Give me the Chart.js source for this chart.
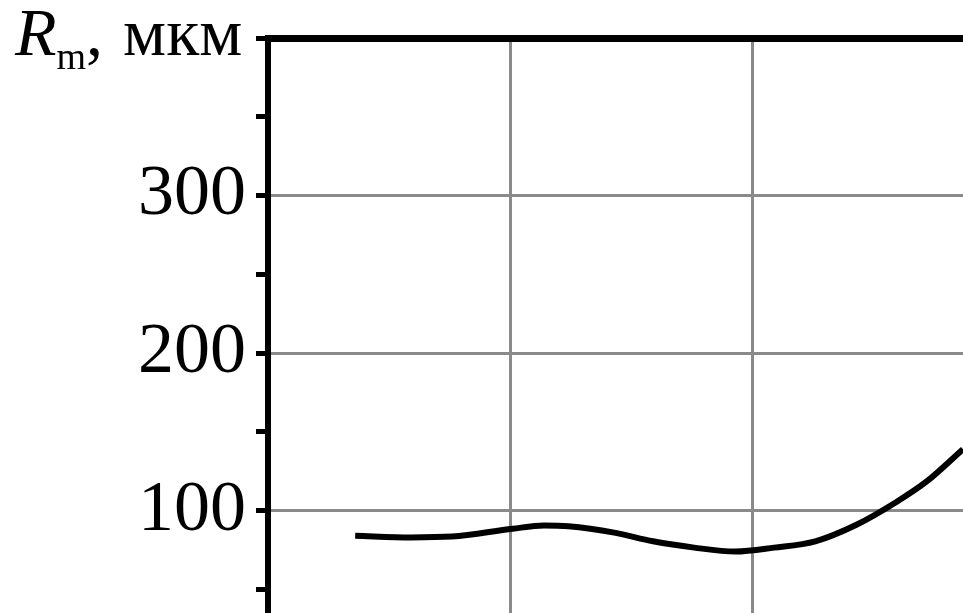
<!DOCTYPE html>
<html>
<head>
<meta charset="utf-8">
<script src="https://cdn.jsdelivr.net/npm/chart.js@4/dist/chart.umd.min.js"></script>
<style>
  html, body { margin: 0; padding: 0; background: #fff; }
  #wrap { position: relative; width: 963px; height: 613px; overflow: hidden; }
  #unit {
    position: absolute; left: 15px; top: -8px;
    font-family: "Liberation Serif", "Times New Roman", serif;
    font-size: 68px; line-height: 80px; color: #000; white-space: nowrap;
  }
  #unit i { font-style: italic; }
  #unit sub { font-size: 38px; vertical-align: -14px; line-height: 0; }
  #unit .u { margin-left: 3px; }
</style>
</head>
<body>
<div id="wrap">
  <canvas id="c" width="963" height="613"></canvas>
  <div id="unit"><i>R</i><sub>m</sub>, <span class="u">мкм</span></div>
</div>
<script>
// Curve samples (x in grid units, R_m in micrometres)
const xValues = [0.36, 0.59, 0.76, 1.01, 1.14, 1.24, 1.43, 1.59, 1.76, 1.93, 2.09, 2.26, 2.43, 2.59, 2.72, 2.87];
const rValues = [84, 83, 83.5, 88.5, 90.5, 90, 86, 80.5, 76.5, 74, 76.5, 80.5, 91, 105, 118.5, 139];

// Y axis ticks: labelled majors and unlabelled minors
const yTicks = [50, 100, 150, 200, 250, 300, 350, 400];
const yLabels = [100, 200, 300];
const xGrid = [1, 2];

const Y_MIN = 35, Y_MAX = 400;
const X_MIN = 0, X_MAX = 2.87;

const points = xValues.map((x, i) => ({ x: x, y: rValues[i] }));

new Chart(document.getElementById('c'), {
  type: 'line',
  data: {
    datasets: [{
      data: points,
      borderColor: '#000',
      borderWidth: 6,
      pointRadius: 0,
      fill: false,
      cubicInterpolationMode: 'monotone'
    }]
  },
  options: {
    responsive: false,
    animation: false,
    layout: { padding: { top: 38, right: 0, bottom: 0, left: 0 } },
    plugins: { legend: { display: false }, tooltip: { enabled: false } },
    scales: {
      x: {
        type: 'linear',
        min: X_MIN, max: X_MAX,
        afterBuildTicks: s => { s.ticks = xGrid.map(v => ({ value: v })); },
        afterFit: s => { s.height = 0; s.paddingLeft = 0; s.paddingRight = 0; },
        ticks: { display: false, autoSkip: false },
        border: { display: false },
        grid: { color: '#8a8a8a', lineWidth: 3, drawTicks: false }
      },
      y: {
        min: Y_MIN, max: Y_MAX,
        afterBuildTicks: s => { s.ticks = yTicks.map(v => ({ value: v })); },
        afterFit: s => { s.width = 268; s.paddingTop = 0; s.paddingBottom = 0; },
        border: { display: true, color: '#000', width: 6 },
        grid: {
          drawTicks: true,
          tickLength: 12,
          color: c => c.tick && c.tick.value === Y_MAX ? '#000'
                   : (c.tick && yLabels.includes(c.tick.value) ? '#8a8a8a' : 'rgba(0,0,0,0)'),
          lineWidth: c => c.tick && c.tick.value === Y_MAX ? 7 : 3,
          tickColor: '#000',
          tickWidth: 5
        },
        ticks: {
          autoSkip: false,
          padding: 10,
          color: '#000',
          font: { family: "'Liberation Serif', 'Times New Roman', serif", size: 72 },
          callback: v => yLabels.includes(v) ? String(v) : ''
        }
      }
    }
  }
});
</script>
</body>
</html>
